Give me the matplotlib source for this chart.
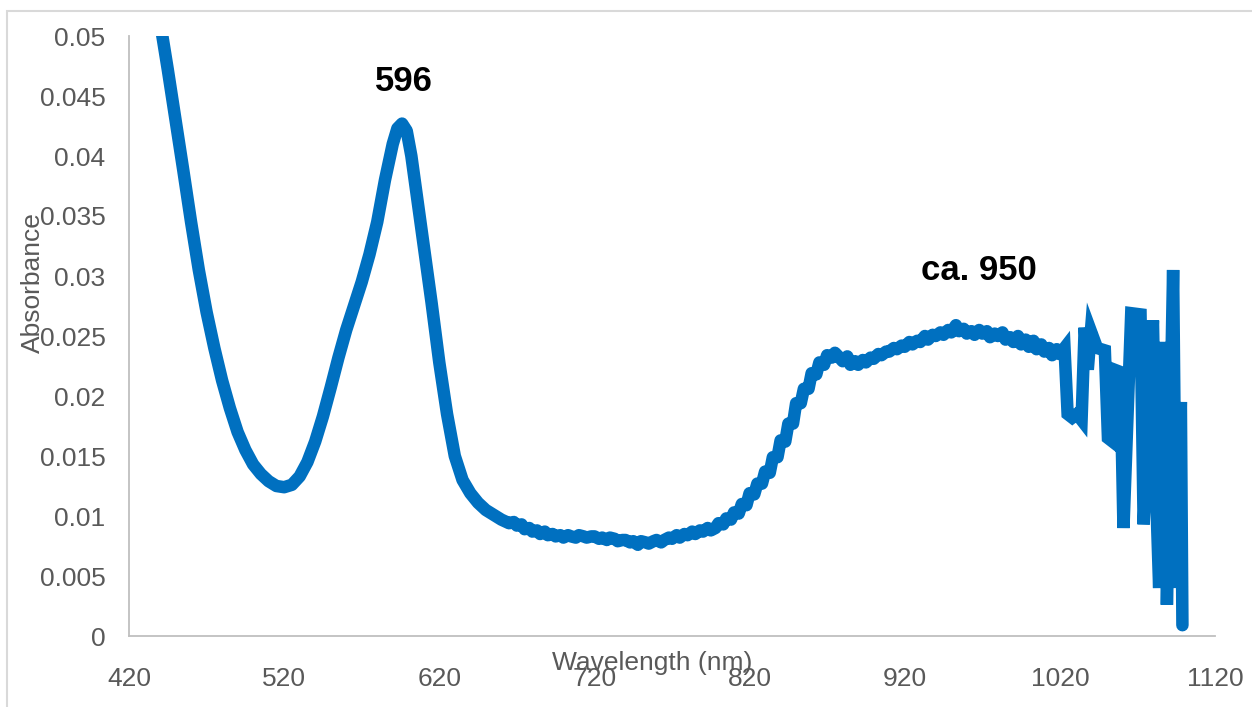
#!/usr/bin/env python3
"""Absorbance spectrum, Excel-style scatter line with two peak labels."""
import matplotlib
matplotlib.use("Agg")
import matplotlib.pyplot as plt
from matplotlib.ticker import FuncFormatter
from matplotlib.patches import Rectangle

plt.rcParams["font.family"] = ["Liberation Sans", "DejaVu Sans"]

# wavelength (nm) and absorbance, 10 values per row
wavelength = [
    425, 430, 435, 440, 445, 450, 455, 460, 465, 470,
    475, 480, 485, 490, 495, 500, 505, 510, 515, 520,
    525, 530, 535, 540, 545, 550, 555, 560, 565, 570,
    575, 580, 585, 590, 593, 596, 599, 602, 605, 610,
    615, 620, 625, 630, 635, 640, 645, 650, 655, 660,
    665, 668, 670, 673, 675, 678, 680, 683, 685, 688,
    690, 693, 695, 698, 700, 703, 705, 708, 710, 713,
    715, 718, 720, 723, 725, 728, 730, 733, 735, 738,
    740, 743, 745, 748, 750, 753, 755, 758, 760, 763,
    765, 768, 770, 773, 775, 778, 780, 783, 785, 788,
    790, 793, 795, 798, 800, 803, 805, 808, 810, 813,
    815, 818, 820, 823, 825, 828, 830, 833, 835, 838,
    840, 843, 845, 848, 850, 853, 855, 858, 860, 863,
    865, 868, 870, 873, 875, 878, 880, 883, 885, 888,
    890, 893, 895, 898, 900, 903, 905, 908, 910, 913,
    915, 918, 920, 923, 925, 928, 930, 933, 935, 938,
    940, 943, 945, 948, 950, 953, 955, 958, 960, 963,
    965, 968, 970, 973, 975, 978, 980, 983, 985, 988,
    990, 993, 995, 998, 1000, 1003, 1005, 1008, 1010, 1013,
    1015, 1018, 1020, 1023, 1025, 1028, 1031, 1034, 1036, 1038,
    1040, 1044, 1049, 1051, 1053, 1055, 1059, 1061, 1066, 1072,
    1074, 1077, 1080, 1082, 1084, 1086, 1088, 1089, 1093, 1095,
    1098, 1099,
]
absorbance = [
    0.0630, 0.0590, 0.0550, 0.0512, 0.0472, 0.0430, 0.0388, 0.0345, 0.0305, 0.0270,
    0.0240, 0.0213, 0.0190, 0.0170, 0.0155, 0.0143, 0.0135, 0.0129, 0.0125, 0.0124,
    0.0126, 0.0133, 0.0145, 0.0162, 0.0183, 0.0207, 0.0232, 0.0255, 0.0275, 0.0295,
    0.0318, 0.0345, 0.0380, 0.0410, 0.0423, 0.0427, 0.0421, 0.0400, 0.0372, 0.0325,
    0.0278, 0.0228, 0.0185, 0.0150, 0.0130, 0.0119, 0.0111, 0.0105, 0.0101, 0.0097,
    0.0094, 0.0095, 0.0092, 0.0093, 0.0089, 0.0090, 0.0087, 0.0088, 0.0085, 0.0087,
    0.0084, 0.0085, 0.0083, 0.0084, 0.0082, 0.0084, 0.0083, 0.0082, 0.0084, 0.0083,
    0.0082, 0.0083, 0.0083, 0.0081, 0.0082, 0.0080, 0.0082, 0.0081, 0.0079, 0.0080,
    0.0080, 0.0078, 0.0079, 0.0076, 0.0079, 0.0078, 0.0077, 0.0079, 0.0080, 0.0078,
    0.0080, 0.0082, 0.0081, 0.0084, 0.0082, 0.0085, 0.0084, 0.0087, 0.0085, 0.0088,
    0.0087, 0.0090, 0.0088, 0.0090, 0.0094, 0.0093, 0.0098, 0.0097, 0.0103, 0.0102,
    0.0110, 0.0109, 0.0119, 0.0118, 0.0127, 0.0127, 0.0137, 0.0136, 0.0149, 0.0149,
    0.0163, 0.0162, 0.0177, 0.0177, 0.0194, 0.0194, 0.0206, 0.0206, 0.0219, 0.0218,
    0.0228, 0.0226, 0.0234, 0.0232, 0.0236, 0.0232, 0.0229, 0.0233, 0.0226, 0.0229,
    0.0226, 0.0230, 0.0228, 0.0232, 0.0231, 0.0235, 0.0234, 0.0237, 0.0237, 0.0240,
    0.0239, 0.0242, 0.0241, 0.0245, 0.0243, 0.0246, 0.0245, 0.0250, 0.0247, 0.0251,
    0.0250, 0.0253, 0.0251, 0.0255, 0.0253, 0.0259, 0.0254, 0.0256, 0.0252, 0.0254,
    0.0251, 0.0255, 0.0252, 0.0254, 0.0249, 0.0252, 0.0250, 0.0253, 0.0247, 0.0249,
    0.0245, 0.0250, 0.0243, 0.0247, 0.0241, 0.0246, 0.0239, 0.0243, 0.0237, 0.0240,
    0.0234, 0.0239, 0.0235, 0.0240, 0.0185, 0.0182, 0.0185, 0.0180, 0.0257, 0.0222,
    0.0254, 0.0240, 0.0238, 0.0165, 0.0163, 0.0222, 0.0220, 0.0090, 0.0269, 0.0268,
    0.0093, 0.0180, 0.0263, 0.0120, 0.0040, 0.0240, 0.0240, 0.0026, 0.0305, 0.0040,
    0.0195, 0.0009,
]

x_ticks = [420, 520, 620, 720, 820, 920, 1020, 1120]
y_ticks = [0, 0.005, 0.01, 0.015, 0.02, 0.025, 0.03, 0.035, 0.04, 0.045, 0.05]
peak_labels = [("596", 597, 0.0462), ("ca. 950", 968, 0.0305)]
NOISY_FROM = 1020  # detector edge, spikes drawn with sharp corners

TICK_GREY = "#595959"
AXIS_GREY = "#BFBFBF"
BLUE = "#0070C0"

fig = plt.figure(figsize=(12.52, 7.07), dpi=100)
fig.patches.append(Rectangle((7 / 1252, -0.1), 1.2, 1.1 - 11 / 707,
                             transform=fig.transFigure, fill=False,
                             edgecolor="#D9D9D9", lw=1.5))
ax = fig.add_axes([129 / 1252, 1 - 636 / 707, (1215 - 129) / 1252, 600 / 707])

cut = wavelength.index(NOISY_FROM)
ax.plot(wavelength[:cut + 1], absorbance[:cut + 1], color=BLUE, lw=9,
        solid_capstyle="round", solid_joinstyle="round")
ax.plot(wavelength[cut:], absorbance[cut:], color=BLUE, lw=9,
        solid_capstyle="round", solid_joinstyle="miter")

ax.set_xlim(420, 1120)
ax.set_ylim(0, 0.05)
ax.set_xticks(x_ticks)
ax.set_yticks(y_ticks)
ax.yaxis.set_major_formatter(FuncFormatter(lambda v, p: f"{v:g}"))
ax.tick_params(length=0, labelsize=19, colors=TICK_GREY)
ax.tick_params(axis="y", pad=17)
ax.tick_params(axis="x", pad=22)

for side in ("top", "right"):
    ax.spines[side].set_visible(False)
for side in ("left", "bottom"):
    ax.spines[side].set_color(AXIS_GREY)
    ax.spines[side].set_linewidth(1.3)

for text, xv, yv in peak_labels:
    ax.text(xv, yv, text, ha="center", va="center", fontsize=25,
            fontweight="bold", color="black")

fig.text(33 / 1252, 1 - 283 / 707, "Absorbance", rotation=90, ha="center",
         va="center", fontsize=19, color=TICK_GREY)
fig.text(652 / 1252, 1 - 663 / 707, "Wavelength (nm)", ha="center",
         va="center", fontsize=19, color=TICK_GREY)

fig.savefig("out.png", dpi=100)
